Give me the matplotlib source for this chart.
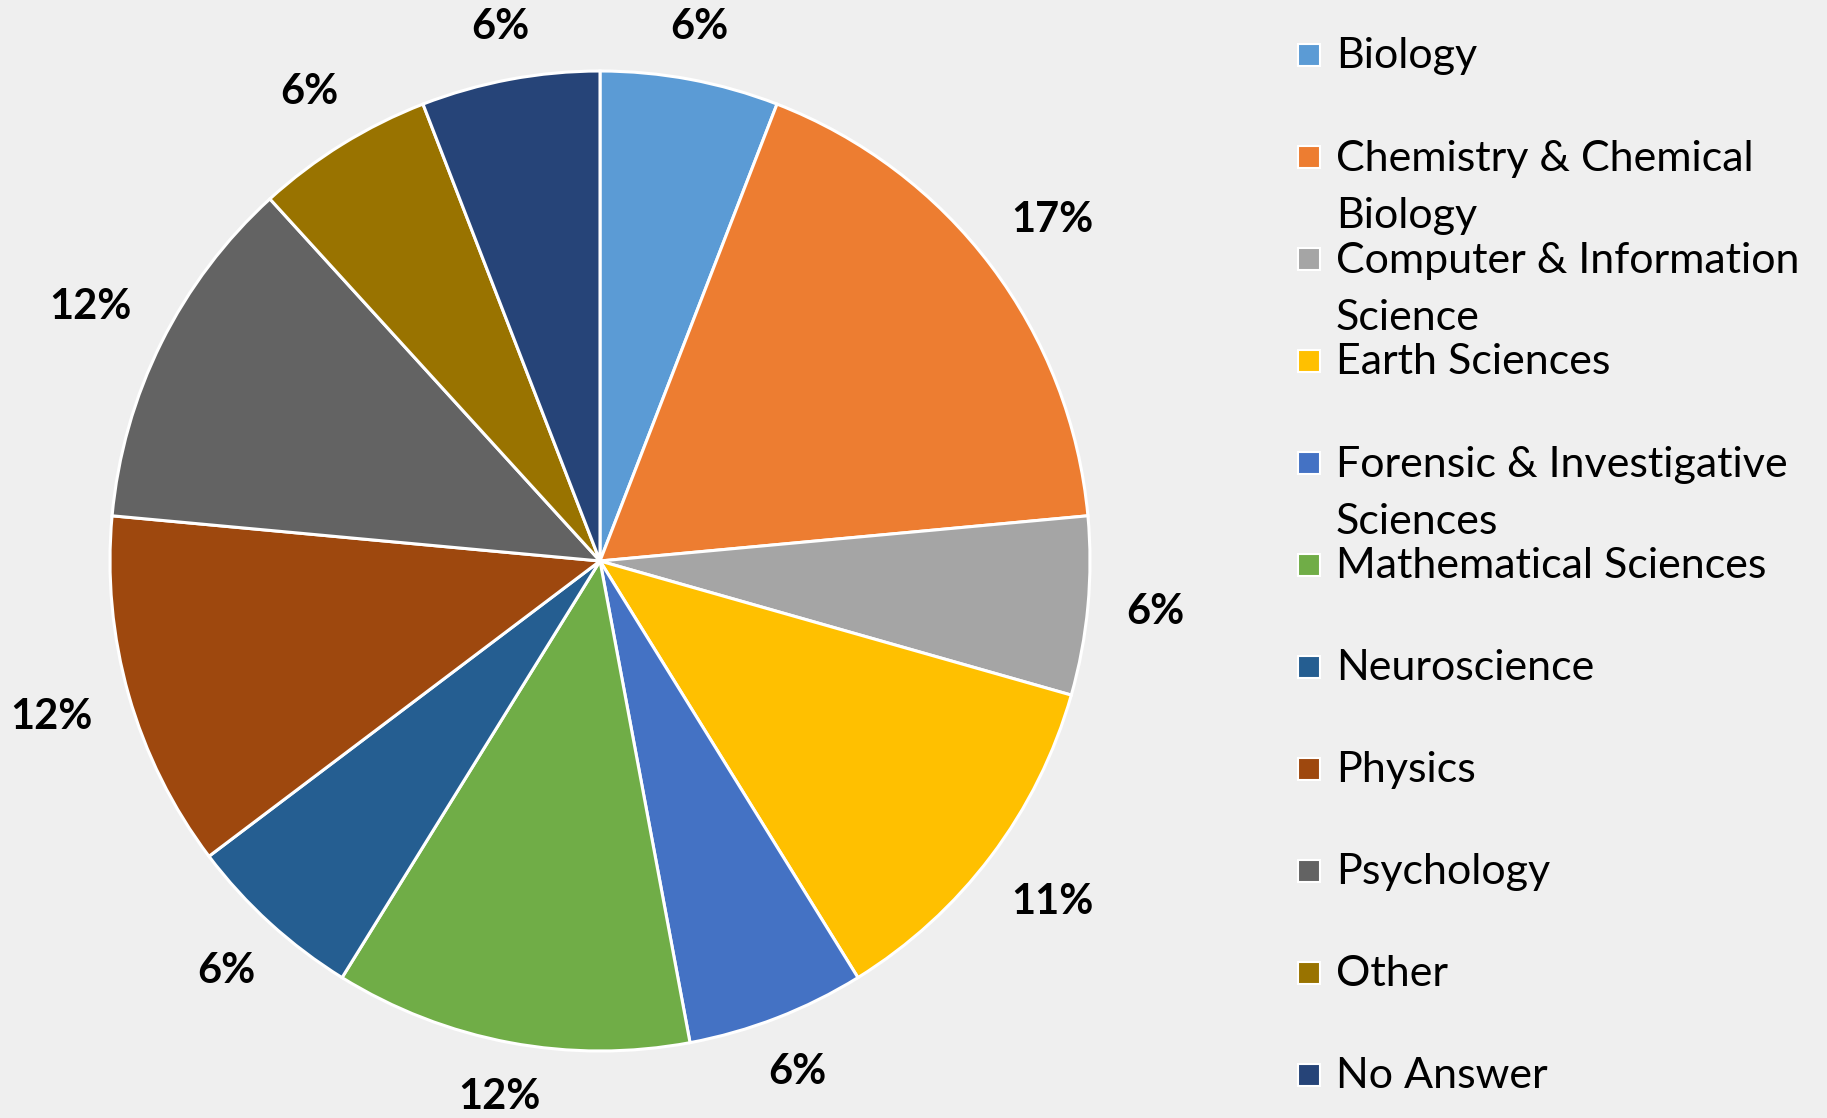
import matplotlib.pyplot as plt
from matplotlib.patches import Rectangle
import numpy as np

#%% data
categories = ['Biology', 'Chemistry & Chemical\nBiology', 'Computer & Information\nScience',
              'Earth Sciences', 'Forensic & Investigative\nSciences', 'Mathematical Sciences',
              'Neuroscience', 'Physics', 'Psychology', 'Other', 'No Answer']
counts = [1, 3, 1, 2, 1, 2, 1, 2, 2, 1, 1]
pct_labels = ['6%', '17%', '6%', '11%', '6%', '12%', '6%', '12%', '12%', '6%', '6%']
colors = ['#5B9BD5', '#ED7D31', '#A5A5A5', '#FFC000', '#4472C4', '#70AD47',
          '#255E91', '#9E480E', '#636363', '#997300', '#264478']

#%%
plt.rcParams['font.family'] = ['Lato', 'DejaVu Sans']
W, H = 1827, 1118
bg = '#efefef'
fig = plt.figure(figsize=(W/100, H/100), dpi=100, facecolor=bg)

# pie axes: centre (600,561), radius 490 px
cx, cy, r = 600, 561, 490
ax = fig.add_axes([(cx-r)/W, (H-cy-r)/H, 2*r/W, 2*r/H])
ax.set_facecolor(bg)
wedges, _ = ax.pie(counts, colors=colors, startangle=90, counterclock=False,
                   wedgeprops=dict(edgecolor='white', linewidth=2.2))
ax.set_xlim(-1, 1)
ax.set_ylim(-1, 1)
ax.axis('off')

# outside-end labels: keep a fixed gap between pie edge and label box
renderer = fig.canvas.get_renderer()
gap = 0.077
for w, lab in zip(wedges, pct_labels):
    ang = np.deg2rad((w.theta1 + w.theta2) / 2)
    t = ax.text(0, 0, lab, ha='center', va='center',
                fontsize=30, fontweight='bold', color='black')
    bb = t.get_window_extent(renderer)
    hw = bb.width / 2 / r
    hh = 10 / r
    d = 1 + gap + abs(np.cos(ang))*hw + abs(np.sin(ang))*hh
    t.set_position((d*np.cos(ang), d*np.sin(ang)))

# legend, drawn by hand so entries keep an even spacing like Excel
lg = fig.add_axes([0, 0, 1, 1])
lg.set_xlim(0, W)
lg.set_ylim(H, 0)
lg.axis('off')
step = 102
line_gap = 58
for i, (name, c) in enumerate(zip(categories, colors)):
    yb = 68 + i*step
    nl = name.count('\n')
    lg.add_patch(Rectangle((1298, yb - 24), 22, 22, facecolor=c, edgecolor='white', linewidth=1.5))
    lg.text(1336, yb + nl*line_gap, name, ha='left', va='baseline', fontsize=31, linespacing=1.6)

fig.savefig('out.png', dpi=100, facecolor=bg)
